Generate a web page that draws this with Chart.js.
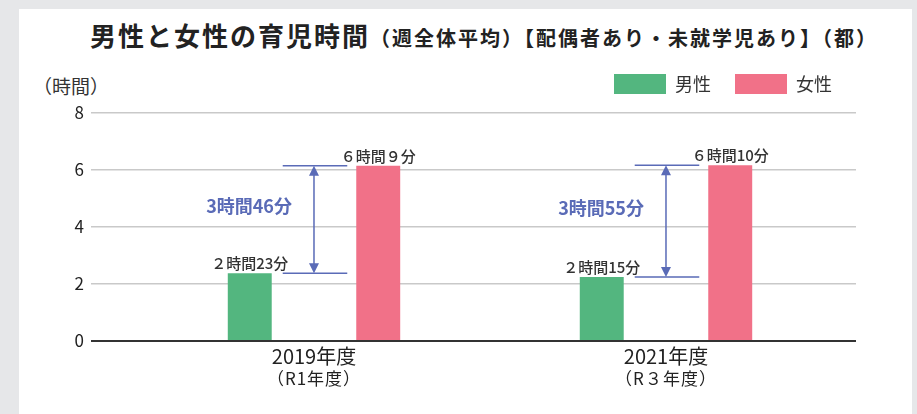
<!DOCTYPE html>
<html lang="ja">
<head>
<meta charset="utf-8">
<script src="https://cdn.jsdelivr.net/npm/chart.js@4.4.1/dist/chart.umd.min.js"></script>
<style>
body { margin: 0; background: #e6e7e9; width: 917px; height: 414px; overflow: hidden; font-family: "Noto Sans CJK JP", sans-serif; }
#panel { position: absolute; left: 19px; top: 9px; width: 893px; height: 420px; background: #fff; }
#title { position: absolute; left: 90px; top: 16px; white-space: nowrap; color: #222; font-weight: 700; }
#title .big { font-size: 26px; letter-spacing: 2px; }
#title .small { font-size: 20px; letter-spacing: 2px; }
#unit { position: absolute; left: 33px; top: 72px; font-size: 19px; color: #333; }
#chart { position: absolute; left: 0; top: 0; }
</style>
</head>
<body>
<div id="panel"></div>
<div id="title"><span class="big">男性と女性の育児時間</span><span class="small">（週全体平均）【配偶者あり・未就学児あり】（都）</span></div>
<div id="unit">（時間）</div>
<canvas id="chart" width="917" height="414"></canvas>
<script>
var categories = ['2019年度', '2021年度'];
var subLabels = ['（R1年度）', '（R３年度）'];
var seriesNames = ['男性', '女性'];
var menHours = [2.38, 2.25];
var womenHours = [6.15, 6.17];
var menLabels = ['２時間23分', '２時間15分'];
var womenLabels = ['６時間９分', '６時間10分'];
var gapLabels = ['3時間46分', '3時間55分'];
var yTicks = [0, 2, 4, 6, 8];

var green = '#53b67f';
var pink = '#f17188';
var blue = '#5a6bb7';
var font = '"Noto Sans CJK JP", sans-serif';

// arrows, gap labels and value labels
var annot = {
    id: 'annot',
    afterInit: function (chart) {
        // a bit more room under the legend
        var lg = chart.legend;
        var fit = lg.fit;
        lg.fit = function () {
            fit.call(this);
            this.height += 9;
        };
    },
    afterDatasetsDraw: function (chart) {
        var ctx = chart.ctx;
        var m0 = chart.getDatasetMeta(0);
        var m1 = chart.getDatasetMeta(1);
        var xs = chart.scales.x;
        ctx.save();
        categories.forEach(function (c, i) {
            var g = m0.data[i], p = m1.data[i];

            ctx.fillStyle = '#333';
            ctx.font = '500 15px ' + font;
            ctx.textAlign = 'center';
            ctx.textBaseline = 'bottom';
            ctx.fillText(menLabels[i], g.x, g.y - 2);
            ctx.fillText(womenLabels[i], p.x, p.y - 2);

            var x1 = g.x + g.width / 2 + 11;
            var x2 = p.x - p.width / 2 - 9;
            var ax = xs.getPixelForValue(i + 1);
            ctx.strokeStyle = blue;
            ctx.fillStyle = blue;
            ctx.lineWidth = 1.5;
            ctx.beginPath();
            ctx.moveTo(x1, p.y); ctx.lineTo(x2, p.y);
            ctx.moveTo(x1, g.y); ctx.lineTo(x2, g.y);
            ctx.moveTo(ax, p.y + 8); ctx.lineTo(ax, g.y - 8);
            ctx.stroke();
            ctx.beginPath();
            ctx.moveTo(ax, p.y); ctx.lineTo(ax - 5, p.y + 10); ctx.lineTo(ax + 5, p.y + 10); ctx.closePath();
            ctx.moveTo(ax, g.y); ctx.lineTo(ax - 5, g.y - 10); ctx.lineTo(ax + 5, g.y - 10); ctx.closePath();
            ctx.fill();

            ctx.font = 'bold 18px ' + font;
            ctx.textAlign = 'right';
            ctx.textBaseline = 'middle';
            ctx.fillText(gapLabels[i], ax - 22, (p.y + g.y) / 2 - 13);
        });
        ctx.restore();
    },
    afterDraw: function (chart) {
        var ctx = chart.ctx;
        var xs = chart.scales.x;
        ctx.save();
        ctx.fillStyle = '#222';
        ctx.font = '17px ' + font;
        ctx.letterSpacing = '1px';
        ctx.textAlign = 'center';
        ctx.textBaseline = 'middle';
        subLabels.forEach(function (s, i) {
            ctx.fillText(s, xs.getPixelForValue(i + 1), xs.top + 38);
        });
        ctx.restore();
    }
};

var chart = new Chart(document.getElementById('chart').getContext('2d'), {
    type: 'bar',
    data: {
        datasets: [{
            label: seriesNames[0],
            data: menHours.map(function (v, i) { return { x: i + 1, y: v }; }),
            backgroundColor: green
        }, {
            label: seriesNames[1],
            data: womenHours.map(function (v, i) { return { x: i + 1, y: v }; }),
            backgroundColor: pink
        }]
    },
    options: {
        responsive: false,
        animation: false,
        categoryPercentage: 0.73,
        barPercentage: 0.342,
        layout: { padding: { left: 51, right: 61, top: 50, bottom: 13 } },
        plugins: {
            legend: {
                position: 'top',
                align: 'end',
                labels: { boxWidth: 52, boxHeight: 20, padding: 24, color: '#333', font: { family: font, size: 18 } }
            },
            tooltip: { enabled: false }
        },
        scales: {
            x: {
                type: 'linear',
                offset: false,
                min: 0.3665,
                max: 2.5398,
                grid: { display: false, offset: false },
                border: { display: false },
                afterBuildTicks: function (s) {
                    s.ticks = categories.map(function (c, i) { return { value: i + 1 }; });
                },
                afterFit: function (s) { s.height = 60; },
                ticks: {
                    autoSkip: false,
                    maxRotation: 0,
                    padding: -5,
                    color: '#222',
                    font: { family: font, size: 20 },
                    callback: function (v) { return categories[v - 1]; }
                }
            },
            y: {
                min: 0,
                max: 8,
                afterBuildTicks: function (s) {
                    s.ticks = yTicks.map(function (v) { return { value: v }; });
                },
                afterFit: function (s) { s.width = 40; },
                border: { display: false },
                grid: {
                    drawTicks: false,
                    color: function (c) { return c.tick && c.tick.value === 0 ? '#333' : '#c9c9c9'; },
                    lineWidth: function (c) { return c.tick && c.tick.value === 0 ? 2 : 1.5; }
                },
                ticks: { padding: 7, color: '#222', font: { family: font, size: 17 } }
            }
        }
    },
    plugins: [annot]
});
</script>
</body>
</html>
